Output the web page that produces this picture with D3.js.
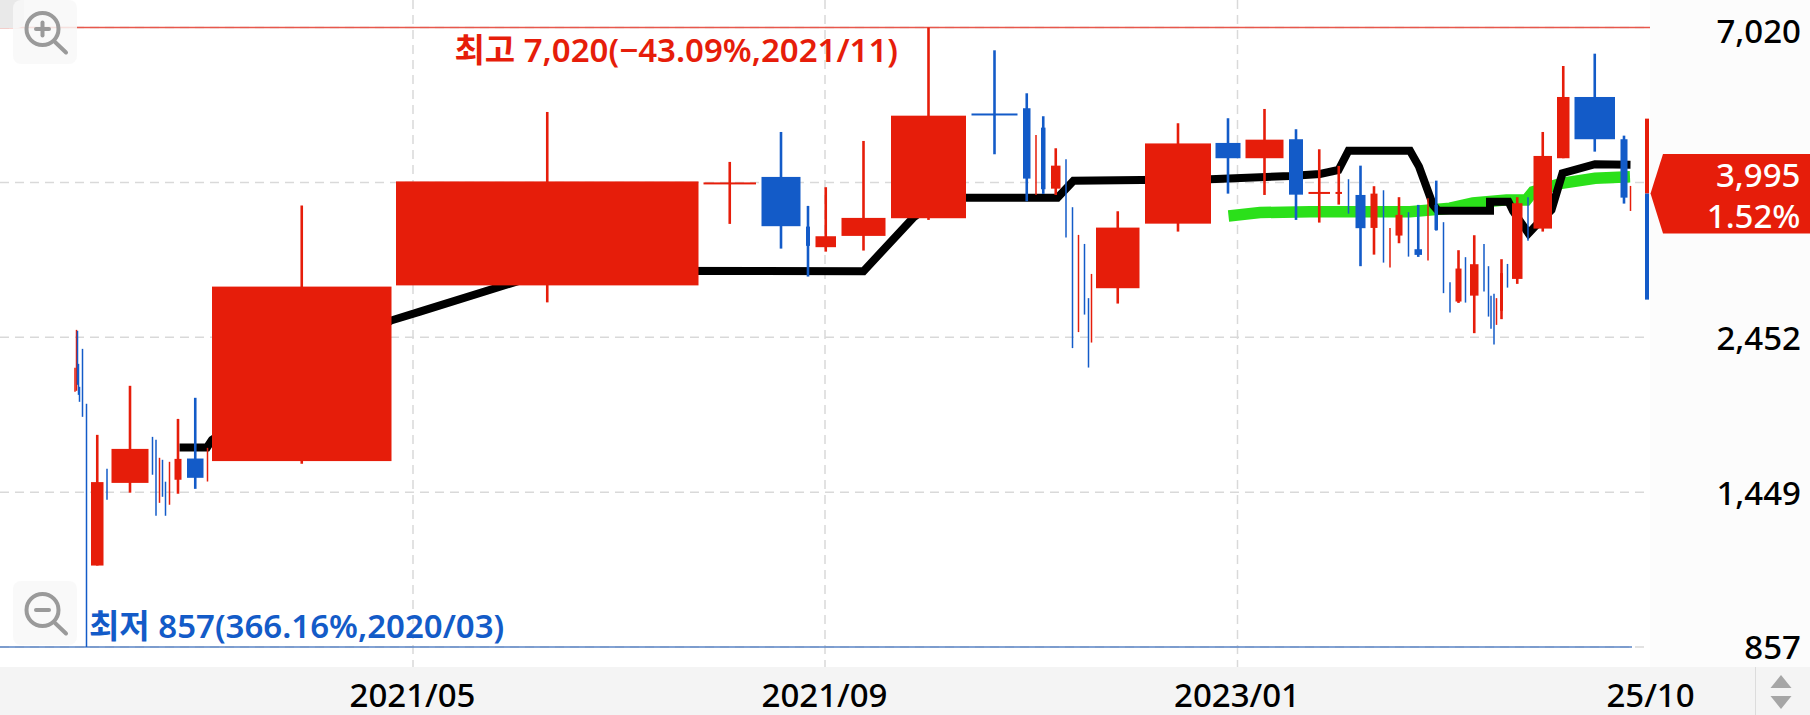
<!DOCTYPE html>
<html><head><meta charset="utf-8">
<script src="https://cdn.jsdelivr.net/npm/d3@7"></script>
<style>html,body{margin:0;padding:0;background:#fff;overflow:hidden}svg{display:block}text{font-family:"Noto Sans","Noto Sans CJK KR",sans-serif;font-weight:500}</style>
</head><body><svg id="c" width="1810" height="715"></svg>
<script>
// Equivolume candles: cumulative volume at candle start, candle volume, OHLC prices
const cumVolume=[0,3,5,7,9,15,23,32,64,73,155,162,169,175,181,189,199,224,265,274,642,1257,1373,1462,1481,1533,1632,1793,1896,1922,1932,1952,1982,1995,2007,2019,2027,2033,2042,2140,2281,2341,2428,2467,2521,2547,2561,2591,2617,2630,2641,2667,2679,2706,2719,2737,2750,2761,2781,2790,2818,2827,2832,2838,2843,2850,2865,2874,2906,2917,2964,2999,3091,3111];
const volume=[0,0,0,0,0,0,0,25,0,74,0,0,0,0,0,0,14,33,0,359,605,105,78,8,41,88,150,92,15,0,9,19,0,0,0,0,0,0,87,132,50,76,28,43,13,0,20,14,0,0,14,0,15,0,7,0,0,12,0,17,0,0,0,0,0,6,0,21,0,37,25,81,14,0];
const open=[2097,2198,2351,2160,2036,2175,1466,1130,1513,1496,1672,1582,1475,1548,1442,1462,1512,1625,1564,1611,2925,4128,4227,3571,3330,3460,3674,5243,5337,4270,4997,4062,4089,3226,2801,3096,2579,2614,2897,3607,4744,4504,4804,3998,3998,4026,3976,3555,3707,3257,3464,3557,3307,3427,3844,3332,2852,2769,3050,2825,3182,2941,2716,2676,2641,2683,3059,2990,3747,3547,4504,5545,4804,3880];
const high=[2211,2515,2507,2241,2073,2358,1957,1761,1569,2080,1749,1732,1629,1618,1502,1607,1859,1997,1685,3837,5270,4448,4924,3831,4082,4776,7020,6497,5615,4874,5194,4659,4489,3814,3472,3367,2801,3041,3762,5072,5159,5324,4970,4643,4388,4194,4392,4096,4040,3555,3946,3750,3844,3932,4174,3625,2957,3296,3219,3468,3367,3122,2825,2842,2801,3197,3146,3946,3946,4924,6160,6423,4863,4100];
const low=[2038,2045,2087,2017,1970,1872,857,1130,1413,1447,1538,1338,1398,1427,1338,1389,1442,1466,1503,1596,2761,3604,3314,3014,3280,3292,3653,4565,3892,3976,3990,3976,3440,2364,2496,2649,2213,2409,2750,3511,3994,3976,3653,3620,3848,3732,3122,3247,3160,3107,3375,3225,3222,3182,3523,2849,2667,2756,2759,2487,2864,2631,2524,2393,2558,2608,2903,2940,3405,3511,4504,4606,3861,3766];
const close=[2149,2339,2225,2093,2005,2030,1145,1500,1466,1679,1609,1464,1544,1491,1393,1527,1623,1522,1619,2913,4163,4149,3576,3345,3456,3678,5204,5217,4203,4539,4054,4392,3776,2795,3093,2881,2403,2803,3559,4736,4504,4797,3980,4017,4017,3888,3552,3994,3444,3391,3716,3400,3244,3651,3531,3099,2765,3097,2912,3143,3031,2793,2625,2541,2713,3049,2986,3866,3585,4539,5545,4804,3940,3980];
// Current (unfinished) candle
const lastVolume=3144, lastHigh=5152, lastPrice=3995, lastLow=2787;
// Moving averages
const blackVol=[209,264,274,632,690,952,1577,1676,1730,1965,1997,2270,2430,2490,2527,2547,2670,2688,2716,2726,2830,2830,2867,2876,2907,2920,2953,2975,3040,3111];
const blackPrice=[1687,1687,1732,2596,2676,3073,3069,3678,3940,3940,4174,4194,4241,4270,4328,4621,4621,4377,3844,3770,3770,3887,3887,3766,3489,3571,3779,4280,4413,4407];
const greenVol=[2307,2370,2470,2670,2750,2796,2863,2903,2916,2973,3040,3110];
const greenPrice=[3703,3745,3757,3757,3801,3870,3910,3910,4021,4137,4208,4231];
// Axes
const yTicks=[7020,4149,2452,1449,857];
const yLabels=["7,020","","2,452","1,449","857"];
const xTickVol=[676,1500,2325];
const xLabels=["2021/05","2021/09","2023/01"];
const xEndVol=3152, xEndLabel="25/10";
const maxText="최고 7,020(−43.09%,2021/11)", minText="최저 857(366.16%,2020/03)";
const tagLines=["3,995","1.52%"];

const RED="#e61d0a",BLUE="#135bc8",GRID="#d9d9d9";
const svg=d3.select("#c");
const x=d3.scaleLinear().domain([0,3150]).range([75,1650]);
const y=d3.scaleLog().domain([857,7020]).range([647,27.5]);
const plotR=1650,plotB=667;

svg.append("rect").attr("x",plotR).attr("y",0).attr("width",160).attr("height",plotB).attr("fill","#fcfcfc");
svg.append("rect").attr("x",0).attr("y",plotB).attr("width",1810).attr("height",48).attr("fill","#f4f4f4");
svg.append("line").attr("x1",1755.5).attr("x2",1755.5).attr("y1",plotB).attr("y2",715).attr("stroke","#dcdcdc").attr("stroke-width",1);

// Grid
const dash="9 6";
svg.append("g").selectAll("line").data(yTicks).join("line")
 .attr("x1",0).attr("x2",plotR).attr("y1",d=>y(d)).attr("y2",d=>y(d))
 .attr("stroke",GRID).attr("stroke-width",1.5).attr("stroke-dasharray",dash);
svg.append("g").selectAll("line").data(xTickVol).join("line")
 .attr("x1",d=>x(d)).attr("x2",d=>x(d)).attr("y1",0).attr("y2",plotB)
 .attr("stroke",GRID).attr("stroke-width",1.5).attr("stroke-dasharray",dash);

// High / low reference lines
svg.append("line").attr("x1",0).attr("x2",plotR).attr("y1",y(7020)).attr("y2",y(7020)).attr("stroke","#e8584c").attr("stroke-width",1.4);
svg.append("line").attr("x1",0).attr("x2",x(3114)).attr("y1",y(857)).attr("y2",y(857)).attr("stroke","#5a84c6").attr("stroke-width",1.6);

// Moving averages
const ln=d3.line().x(d=>x(d[0])).y(d=>y(d[1]));
svg.append("path").attr("d",ln(d3.zip(greenVol,greenPrice))).attr("fill","none").attr("stroke","#2be01a").attr("stroke-width",11.5);
svg.append("path").attr("d",ln(d3.zip(blackVol,blackPrice))).attr("fill","none").attr("stroke","#000").attr("stroke-width",8);

// Candles
const candles=cumVolume.map((c,i)=>({c,v:volume[i],o:open[i],h:high[i],l:low[i],k:close[i]}));
const col=d=>d.k>=d.o?RED:BLUE;
const g=svg.append("g").selectAll("g").data(candles).join("g");
g.append("line")
 .attr("x1",d=>x(d.c+d.v/2)).attr("x2",d=>x(d.c+d.v/2))
 .attr("y1",d=>y(d.h)).attr("y2",d=>y(d.l))
 .attr("stroke",col).attr("stroke-width",d=>d.v===0?1.5:2.6);
g.filter(d=>d.v>0).append("rect")
 .attr("x",d=>x(d.c)).attr("width",d=>x(d.c+d.v)-x(d.c))
 .attr("y",d=>y(Math.max(d.o,d.k))).attr("height",d=>Math.max(2,Math.abs(y(d.o)-y(d.k))))
 .attr("fill",col);

// Current candle
svg.append("line").attr("x1",x(lastVolume)).attr("x2",x(lastVolume)).attr("y1",y(lastHigh)).attr("y2",y(lastPrice)).attr("stroke",RED).attr("stroke-width",4);
svg.append("line").attr("x1",x(lastVolume)).attr("x2",x(lastVolume)).attr("y1",y(lastPrice)).attr("y2",y(lastLow)).attr("stroke",BLUE).attr("stroke-width",4);

// High / low annotation
svg.append("text").attr("x",898).attr("y",62).attr("text-anchor","end").attr("fill",RED).attr("font-size",33).style("font-weight",600).text(maxText);
svg.append("text").attr("x",89).attr("y",638).attr("fill",BLUE).attr("font-size",33).style("font-weight",600).text(minText);

// Axes
const yAxis=d3.axisLeft(y).tickValues(yTicks).tickSize(0).tickPadding(0).tickFormat(d=>yLabels[yTicks.indexOf(d)]);
const ya=svg.append("g").attr("transform","translate(1801,0)").call(yAxis);
ya.select(".domain").remove();
ya.selectAll("text").attr("font-size",33).attr("fill","#000").style("font-family",'"Noto Sans"').attr("dy",d=>d===7020?"0.46em":"0.36em");
const xAxis=d3.axisBottom(x).tickValues(xTickVol.concat([xEndVol])).tickSize(0).tickPadding(0).tickFormat(d=>d===xEndVol?xEndLabel:xLabels[xTickVol.indexOf(d)]);
const xa=svg.append("g").attr("transform","translate(-1,695)").call(xAxis);
xa.select(".domain").remove();
xa.selectAll("text").attr("font-size",33).attr("fill","#000").style("font-family",'"Noto Sans"').attr("dy","0.35em");

// Price tag
const ty=y(lastPrice);
svg.append("path").attr("d",d3.line()([[1650.5,ty],[1663,154],[1810,154],[1810,233.5],[1663,233.5]])+"Z").attr("fill",RED);
tagLines.forEach((t,i)=>svg.append("text").attr("x",1800.5).attr("y",[175,216.5][i]).attr("dy","0.35em").attr("text-anchor","end").attr("fill","#fff").attr("font-size",33).text(t));

// Zoom buttons and scroll arrows
svg.append("path").attr("d","M0,0H24V22a6,6 0 0 1 -6,6H0Z").attr("fill","#e9e9e9");
function zoomBtn(y0,plus){
 svg.append("rect").attr("x",13).attr("y",y0).attr("width",64).attr("height",64).attr("rx",8).attr("fill","#f8f8f8").attr("fill-opacity",.85);
 const cy=y0+29;
 svg.append("circle").attr("cx",42.5).attr("cy",cy).attr("r",16).attr("fill","none").attr("stroke","#9a9a9a").attr("stroke-width",4);
 svg.append("line").attr("x1",55).attr("y1",cy+13).attr("x2",66).attr("y2",cy+23.5).attr("stroke","#9a9a9a").attr("stroke-width",4).attr("stroke-linecap","round");
 svg.append("line").attr("x1",36).attr("x2",49).attr("y1",cy).attr("y2",cy).attr("stroke","#9a9a9a").attr("stroke-width",4).attr("stroke-linecap","round");
 if(plus)svg.append("line").attr("x1",42.5).attr("x2",42.5).attr("y1",cy-6.5).attr("y2",cy+6.5).attr("stroke","#9a9a9a").attr("stroke-width",4).attr("stroke-linecap","round");
}
zoomBtn(0,true);zoomBtn(581,false);
svg.append("path").attr("d","M1781,675L1791.5,688H1770.5Z").attr("fill","#a6a6a6");
svg.append("path").attr("d","M1781,709L1791.5,696H1770.5Z").attr("fill","#a6a6a6");
</script></body></html>
